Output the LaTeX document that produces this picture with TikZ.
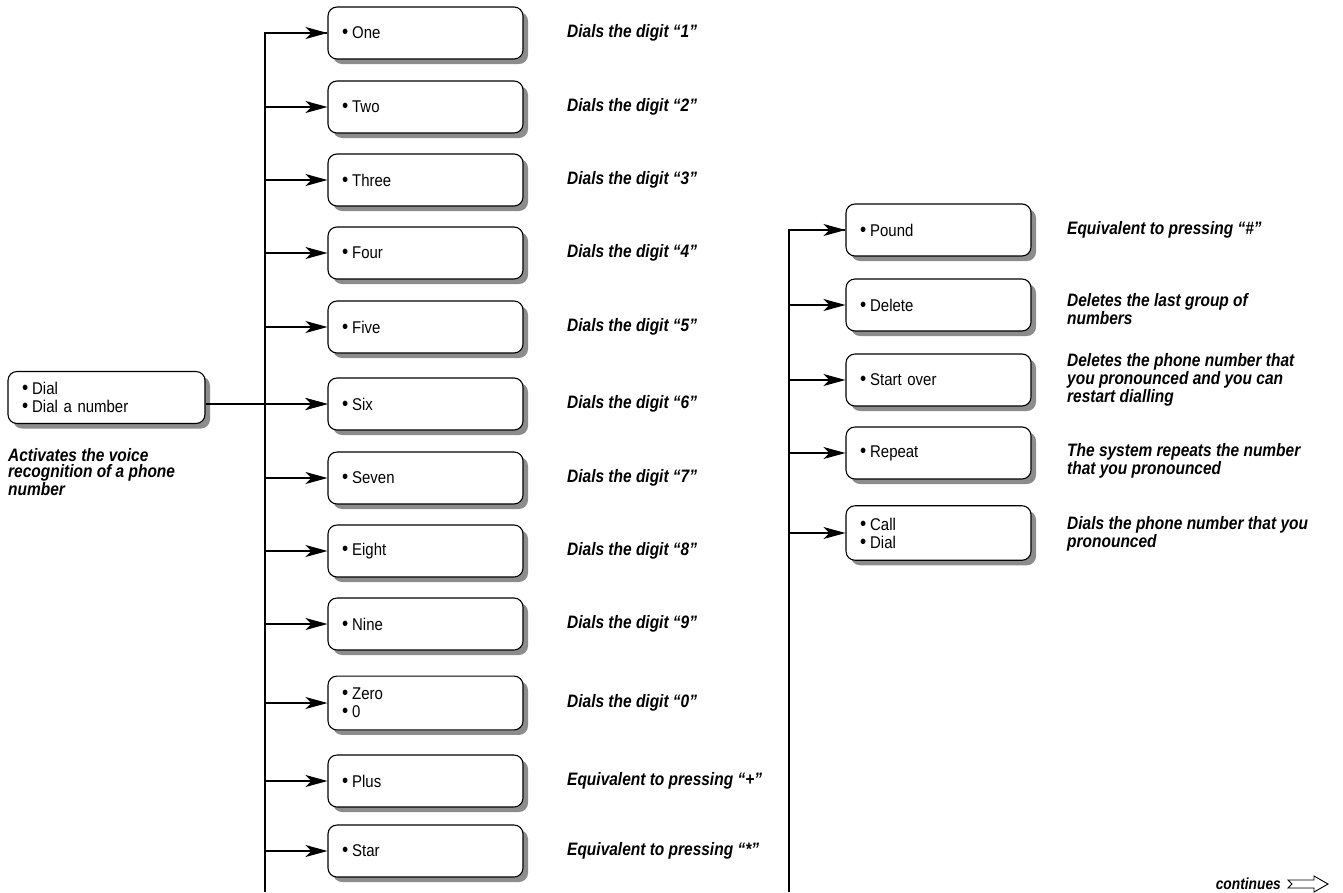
\documentclass[tikz,border=0pt]{standalone}
\usepackage{fontspec}
\newfontfamily\boxfont{Liberation Sans}[FakeStretch=0.88]
\newfontfamily\descfont{Liberation Sans}[FakeStretch=0.86]
\usetikzlibrary{arrows.meta,shadows}
\newcommand\bul{\smash{\fontsize{20pt}{18pt}\selectfont •}\hspace{4pt}}

\begin{document}
\begin{tikzpicture}[x=1pt,y=-1pt,
  box/.style={draw,line width=1.1pt,rounded corners=9pt,fill=white,
    text width=167pt,inner xsep=14pt,inner ysep=12pt,minimum height=52pt,align=left,
    drop shadow={shadow xshift=5pt,shadow yshift=-5pt,fill=black!45,opacity=1},
    font=\boxfont\fontsize{17pt}{18pt}\selectfont},
  rbox/.style={box,text width=157pt},
  desc/.style={anchor=west,inner sep=0pt,align=left,
    font=\descfont\bfseries\itshape\fontsize{18pt}{16pt}\selectfont},
  arr/.style={line width=1.1pt,-{Stealth[length=22pt,width=12pt,inset=6pt]}}]
\useasboundingbox (0,0) rectangle (1343,892);
\coordinate (lbase) at (265,892);
\coordinate (rbase) at (789,892);

% entry command
\node[box,text width=169pt,inner ysep=10pt] (dial) at (106.5,397.5) {\bul Dial\\\bul Dial a number};
\node[desc,anchor=north west] (dial-txt) at (8,448) {Activates the voice\\recognition of a phone\\number};

% digits and signs
\foreach \n/\y/\t/\d in {
  one/33/One/{Dials the digit “1”},
  two/107/Two/{Dials the digit “2”},
  three/180/Three/{Dials the digit “3”},
  four/253/Four/{Dials the digit “4”},
  five/327/Five/{Dials the digit “5”},
  six/404/Six/{Dials the digit “6”},
  seven/478/Seven/{Dials the digit “7”},
  eight/551/Eight/{Dials the digit “8”},
  nine/624/Nine/{Dials the digit “9”},
  zero/703/{Zero\\\bul 0}/{Dials the digit “0”},
  plus/781/Plus/{Equivalent to pressing “+”},
  star/851/Star/{Equivalent to pressing “*”}}{
  \node[box] (\n) at (425.5,\y) {\bul \t};
  \draw[arr] (\n.west -| lbase) -- (\n.west);
  \node[desc] (\n-txt) at (567,\y) {\d};
}
\draw[line width=1.1pt] (lbase) |- (one.west);
\draw[arr] (dial.east |- six.west) -- (six.west);

% editing commands
\foreach \n/\y/\t in {pound/230/Pound, delete/305/Delete, start/380/Start over,
  again/453/Repeat, call/533/{Call\\\bul Dial}}{
  \node[rbox] (\n) at (938.5,\y) {\bul \t};
  \draw[arr] (\n.west -| rbase) -- (\n.west);
}
\draw[line width=1.1pt] (rbase) |- (pound.west);
\node[desc] (pound-txt) at (1067,230) {Equivalent to pressing “\#”};
\node[desc] (delete-txt) at (1067,309) {Deletes the last group of\\numbers};
\node[desc] (start-txt) at (1067,380) {Deletes the phone number that\\you pronounced and you can\\restart dialling};
\node[desc] (again-txt) at (1067,461) {The system repeats the number\\that you pronounced};
\node[desc] (call-txt) at (1067,534) {Dials the phone number that you\\pronounced};

% continues
\node[desc,anchor=east,font=\descfont\bfseries\itshape\fontsize{16pt}{16pt}\selectfont] (cont) at (1281,884) {continues};
\fill[black!45,shift={(2,2)}] ([xshift=7pt]cont.east) ++(0,-4) -- ++(26,0) -- ++(0,-4) -- ++(14,8)
  -- ++(-14,8) -- ++(0,-4) -- ++(-26,0) -- ++(4,-4) -- cycle;
\draw[line width=0.9pt,fill=white] ([xshift=7pt]cont.east) ++(0,-4) -- ++(26,0) -- ++(0,-4) -- ++(14,8)
  -- ++(-14,8) -- ++(0,-4) -- ++(-26,0) -- ++(4,-4) -- cycle;
\end{tikzpicture}
\end{document}
